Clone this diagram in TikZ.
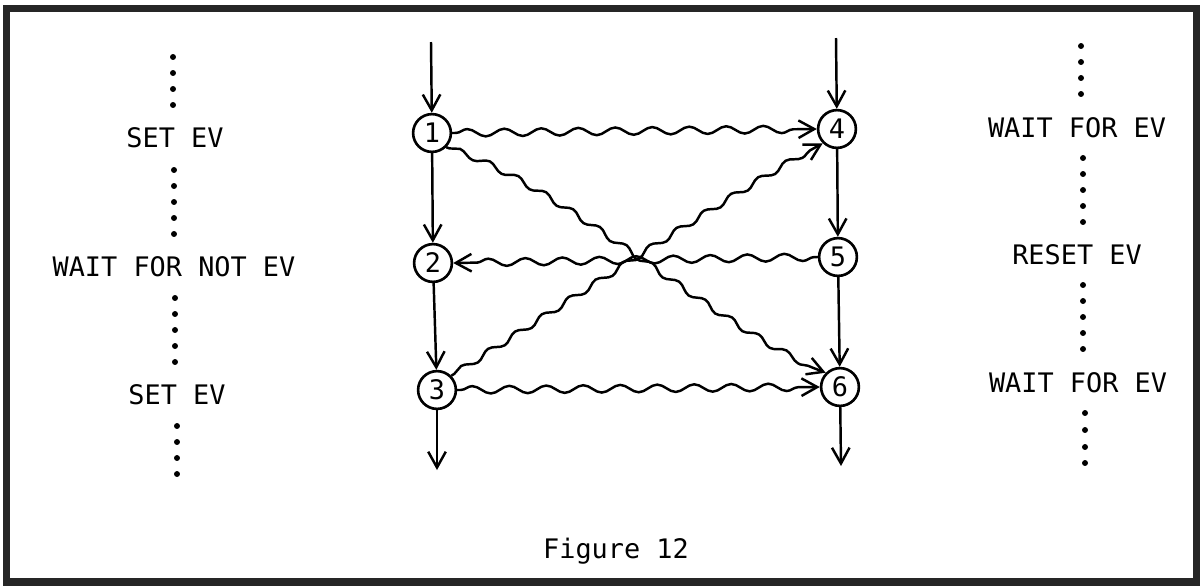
\documentclass[tikz,border=0pt]{standalone}
\usepackage{fontspec}
\newfontfamily\figfont{DejaVu Sans Mono}
\usetikzlibrary{arrows.meta, decorations.pathmorphing}

\tikzset{
  event/.style={circle, draw, line width=1.5pt, minimum size=21.5pt, inner sep=0pt,
    font=\figfont\fontsize{15.3}{15.3}\selectfont, text height=11pt, text depth=0pt},
  stmt/.style={inner sep=0pt, font=\figfont\fontsize{15.3}{18}\selectfont,
    text height=11pt, text depth=0pt},
  flow/.style={line width=1.4pt, -{Straight Barb[length=9pt, width=10pt, line width=1.4pt]}},
  signal/.style={flow, decorate, decoration={snake, segment length=0.74cm,
    amplitude=0.075cm, pre length=2pt, post length=7pt}},
  cross/.style={signal, decoration={snake, segment length=0.64cm,
    amplitude=0.06cm, pre length=2pt, post length=7pt}},
}

\begin{document}
\begin{tikzpicture}[x=0.02cm, y=-0.02cm]
  \useasboundingbox (0,0) rectangle (1200,586);
  % frame
  \draw[line width=4.5pt, black!85] (6.5,8.5) rectangle (1196.5,582);

  % left process
  \foreach \y in {57,73,89,105} \fill (173,\y) circle (1.7pt);
  \node[stmt] (set1) at (175,138) {SET EV};
  \foreach \y in {170,186,202,218,234} \fill (174,\y) circle (1.7pt);
  \node[stmt] (waitnot) at (174,267) {WAIT FOR NOT EV};
  \foreach \y in {298,314,330,346,362} \fill (175,\y) circle (1.7pt);
  \node[stmt] (set2) at (177,395) {SET EV};
  \foreach \y in {426,442,458,474} \fill (177,\y) circle (1.7pt);

  % right process
  \foreach \y in {46,62,78,94} \fill (1081,\y) circle (1.7pt);
  \node[stmt] (wait1) at (1077,128) {WAIT FOR EV};
  \foreach \y in {158,174,190,206,222} \fill (1083,\y) circle (1.7pt);
  \node[stmt] (reset) at (1077,255) {RESET EV};
  \foreach \y in {285,301,317,333,349} \fill (1083,\y) circle (1.7pt);
  \node[stmt] (wait2) at (1078,383) {WAIT FOR EV};
  \foreach \y in {413,430,447,463} \fill (1085,\y) circle (1.7pt);

  % events
  \node[event] (n1) at (432,133) {1};
  \node[event] (n2) at (433,263) {2};
  \node[event] (n3) at (437,390) {3};
  \node[event] (n4) at (837,129) {4};
  \node[event] (n5) at (838,257) {5};
  \node[event] (n6) at (840,387) {6};
  \coordinate (top1) at (431,42);
  \coordinate (bot3) at (437,470);
  \coordinate (top4) at (836,38);
  \coordinate (bot6) at (841,466);

  % program order
  \draw[flow] (top1) -- (n1);
  \draw[flow] (n1) -- (n2);
  \draw[flow] (n2) -- (n3);
  \draw[flow] (n3) -- (bot3);
  \draw[flow] (top4) -- (n4);
  \draw[flow] (n4) -- (n5);
  \draw[flow] (n5) -- (n6);
  \draw[flow] (n6) -- (bot6);

  % signals
  \draw[signal] (n1.east) -- (n4.west);
  \draw[signal] (n5.west) -- (n2.east);
  \draw[signal] (n3.east) -- (n6.west);
  \draw[cross] (n1.south east) .. controls (560,185) and (720,335) .. (n6.north west);
  \draw[cross] (n3.north east) .. controls (540,320) and (720,200) .. (n4.south west);

  \node[stmt, text depth=3pt] (caption) at (616,551) {Figure 12};
\end{tikzpicture}
\end{document}
